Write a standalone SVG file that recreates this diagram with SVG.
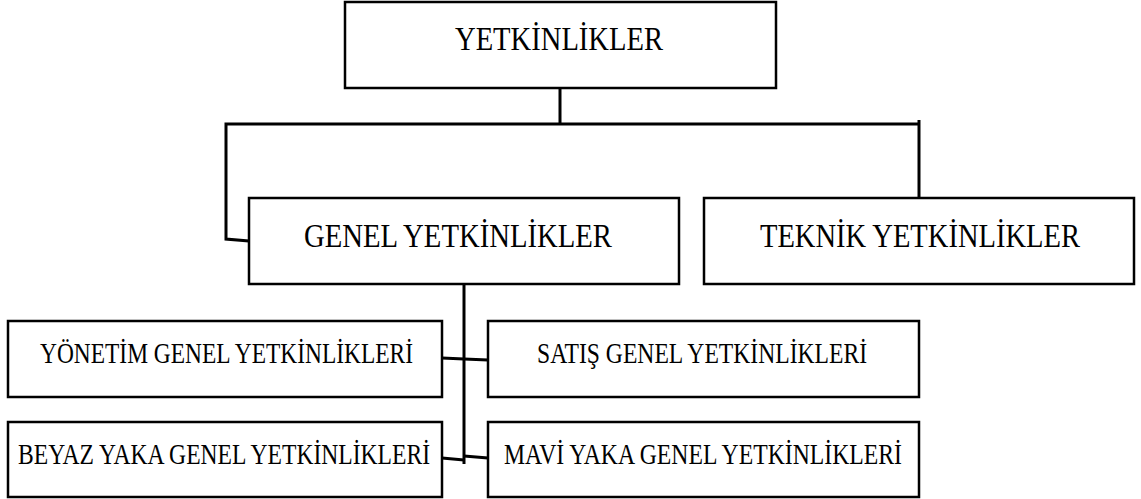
<svg xmlns="http://www.w3.org/2000/svg" width="1141" height="499" viewBox="0 0 1141 499">
<style>
.box{fill:#fff;stroke:#000;stroke-width:2.5}
.big{font-family:"Liberation Serif","Times New Roman",serif;font-size:33px;fill:#000}
.small{font-family:"Liberation Serif","Times New Roman",serif;font-size:29px;fill:#000}
.conn{fill:none;stroke:#000;stroke-width:3;stroke-linejoin:miter}
</style>
<rect width="1141" height="499" fill="#fff"/>
<g id="connectors">
<polyline class="conn" points="560,88 560,124"/>
<polyline class="conn" points="560,124 226,124 226,239 249,241"/>
<polyline class="conn" points="560,124 919,124"/>
<polyline class="conn" points="919,120 919,201"/>
<polyline class="conn" points="464,284 464,464"/>
<polyline class="conn" points="442,358 464,359 488,360"/>
<polyline class="conn" points="442,458 464,460"/>
<polyline class="conn" points="464,456 488,458"/>
</g>
<g id="node-yetkinlikler">
<rect class="box" x="345" y="2" width="431" height="86"/>
<text class="big" x="455" y="50" textLength="208" lengthAdjust="spacingAndGlyphs">YETKİNLİKLER</text>
</g>
<g id="node-genel">
<rect class="box" x="249" y="198" width="430" height="86"/>
<text class="big" x="304" y="247" textLength="308" lengthAdjust="spacingAndGlyphs">GENEL YETKİNLİKLER</text>
</g>
<g id="node-teknik">
<rect class="box" x="704" y="198" width="430" height="86"/>
<text class="big" x="760" y="247" textLength="320" lengthAdjust="spacingAndGlyphs">TEKNİK YETKİNLİKLER</text>
</g>
<g id="node-yonetim">
<rect class="box" x="8" y="321" width="434" height="76"/>
<text class="small" x="40" y="363" textLength="373" lengthAdjust="spacingAndGlyphs">YÖNETİM GENEL YETKİNLİKLERİ</text>
</g>
<g id="node-satis">
<rect class="box" x="488" y="321" width="431" height="76"/>
<text class="small" x="537" y="363" textLength="330" lengthAdjust="spacingAndGlyphs">SATIŞ GENEL YETKİNLİKLERİ</text>
</g>
<g id="node-beyaz">
<rect class="box" x="8" y="422" width="434" height="75"/>
<text class="small" x="18" y="464" textLength="412" lengthAdjust="spacingAndGlyphs">BEYAZ YAKA GENEL YETKİNLİKLERİ</text>
</g>
<g id="node-mavi">
<rect class="box" x="488" y="422" width="431" height="75"/>
<text class="small" x="504" y="464" textLength="398" lengthAdjust="spacingAndGlyphs">MAVİ YAKA GENEL YETKİNLİKLERİ</text>
</g>
</svg>
